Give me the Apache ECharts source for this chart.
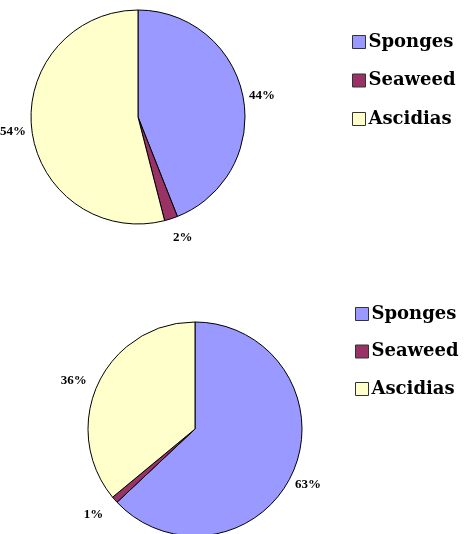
<!DOCTYPE html>
<html><head><meta charset="utf-8">
<script src="https://cdn.jsdelivr.net/npm/echarts@6/dist/echarts.min.js"></script>
<style>html,body{margin:0;padding:0;background:#fff}#c{width:466px;height:534px}</style>
</head><body><div id="c"></div>
<script>
const categories = ['Sponges', 'Seaweed', 'Ascidias'];
const topValues = [44, 2, 54];
const bottomValues = [63, 1, 36];
const colors = ['#9999FF', '#993366', '#FFFFCC'];
// per-slice label styling (Excel-style label placement: bottom labels hang below their anchor)
const topLabelStyle = [
  {formatter: '{c}%', padding: [0, 0, 0, 0]},
  {formatter: '\n{c}%', lineHeight: 26, padding: [0, 0, 0, 0]},
  {formatter: '{c}%', padding: [0, 0, 0, 0]}
];
const bottomLabelStyle = [
  {formatter: '\n{c}%', lineHeight: 24, padding: [0, 0, 0, 0]},
  {formatter: '\n{c}%', lineHeight: 22, padding: [0, 7, 0, 0]},
  {formatter: '{c}%', padding: [0, 6, 0, 0]}
];
const bottomLineLen = [2, 6, 6];

const chart = echarts.init(document.getElementById('c'), null, {renderer: 'canvas'});
function pieData(vals, styles, lens) {
  return categories.map((n, i) => ({
    name: n, value: vals[i],
    itemStyle: {color: colors[i]},
    label: styles[i],
    labelLine: {length: lens ? lens[i] : 6}
  }));
}
const labelStyle = {
  show: true, position: 'outside', formatter: '{c}%',
  fontFamily: 'Liberation Serif', fontWeight: 'bold', fontSize: 13, color: '#000',
  distanceToLabelLine: 0
};
const legendBase = {
  orient: 'vertical', icon: 'rect', itemWidth: 13, itemHeight: 13, itemGap: 20.5,
  data: categories,
  itemStyle: {borderColor: '#333', borderWidth: 1},
  textStyle: {fontFamily: 'DejaVu Serif', fontWeight: 'bold', fontSize: 18, color: '#000', padding: [0,0,0,-2]},
  selectedMode: false
};
chart.setOption({
  backgroundColor: '#fff',
  animation: false,
  legend: [
    Object.assign({}, legendBase, {left: 347, top: 28}),
    Object.assign({}, legendBase, {left: 350, top: 300, itemGap: 19.5})
  ],
  series: [
    {
      type: 'pie', center: [138, 117], radius: 107, startAngle: 90, clockwise: true,
      data: pieData(topValues, topLabelStyle),
      itemStyle: {borderColor: '#000', borderWidth: 1},
      label: labelStyle,
      labelLine: {show: false, length: 6, length2: 0},
      avoidLabelOverlap: false
    },
    {
      type: 'pie', center: [195, 429], radius: 107, startAngle: 90, clockwise: true,
      data: pieData(bottomValues, bottomLabelStyle, bottomLineLen),
      itemStyle: {borderColor: '#000', borderWidth: 1},
      label: labelStyle,
      labelLine: {show: false, length: 6, length2: 0},
      avoidLabelOverlap: false
    }
  ]
});
</script></body></html>
